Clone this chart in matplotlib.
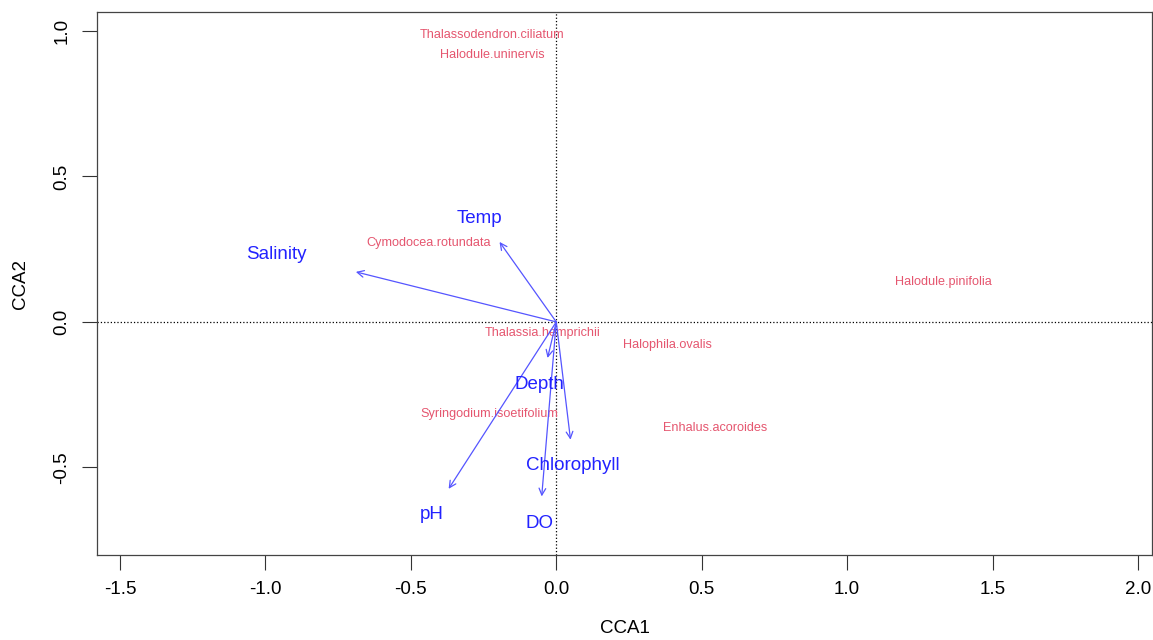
import matplotlib.pyplot as plt

plt.rcParams['font.family'] = ['Liberation Sans', 'DejaVu Sans']

# species scores
species = ["Thalassodendron.ciliatum", "Halodule.uninervis", "Cymodocea.rotundata",
           "Halodule.pinifolia", "Thalassia.hemprichii", "Halophila.ovalis",
           "Syringodium.isoetifolium", "Enhalus.acoroides"]
sp_x = [-0.222, -0.219, -0.439, 1.330, -0.047, 0.383, -0.229, 0.547]
sp_y = [0.985, 0.916, 0.273, 0.136, -0.039, -0.081, -0.318, -0.366]

# environmental biplot arrows
env = ["Salinity", "Temp", "Depth", "Chlorophyll", "DO", "pH"]
env_x = [-0.689, -0.195, -0.030, 0.049, -0.050, -0.370]
env_y = [0.172, 0.275, -0.124, -0.405, -0.600, -0.574]
lab_x = [-0.961, -0.263, -0.057, 0.056, -0.057, -0.428]
lab_y = [0.232, 0.356, -0.215, -0.493, -0.692, -0.661]

fig = plt.figure(figsize=(11.53, 6.4), dpi=100)
ax = fig.add_axes([0.0841, 0.133, 0.915, 0.848])

ax.axhline(0, color="black", linestyle=":", linewidth=0.9)
ax.axvline(0, color="black", linestyle=":", linewidth=0.9)

for name, x, y in zip(species, sp_x, sp_y):
    ax.text(x, y, name, color="#E5566F", fontsize=9.1, ha="center", va="center")

for x, y in zip(env_x, env_y):
    ax.annotate("", xy=(x, y), xytext=(0, 0),
                arrowprops=dict(arrowstyle="->", color="#5555FF", lw=0.9,
                                shrinkA=0, shrinkB=0, mutation_scale=12))
for name, x, y in zip(env, lab_x, lab_y):
    ax.text(x, y, name, color="#2222FF", fontsize=13.5, ha="center", va="center")

ax.set_xlim(-1.579, 2.048)
ax.set_ylim(-0.801, 1.065)
ax.set_xticks([-1.5, -1.0, -0.5, 0.0, 0.5, 1.0, 1.5, 2.0])
ax.set_xticklabels(["-1.5", "-1.0", "-0.5", "0.0", "0.5", "1.0", "1.5", "2.0"])
ax.set_yticks([-0.5, 0.0, 0.5, 1.0])
ax.set_yticklabels(["-0.5", "0.0", "0.5", "1.0"], rotation=90, va="center")
ax.tick_params(direction="out", length=11, width=0.8, labelsize=13.5, pad=8, colors="#333333")
ax.tick_params(labelcolor="black")
for s in ax.spines.values():
    s.set_color("#444444")
    s.set_linewidth(0.9)

ax.set_xlabel("CCA1", fontsize=13.5, labelpad=16)
ax.set_ylabel("CCA2", fontsize=13.5, labelpad=18)

fig.savefig("out.png", dpi=100)
